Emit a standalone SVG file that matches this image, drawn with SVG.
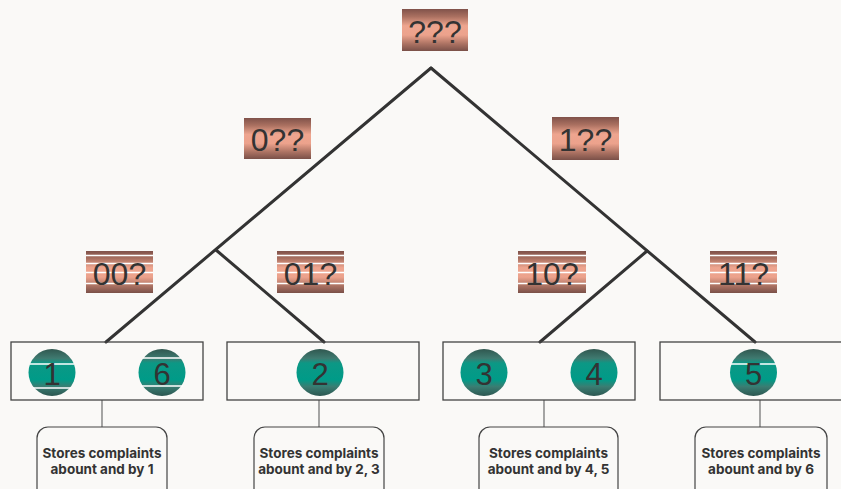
<svg xmlns="http://www.w3.org/2000/svg" width="841" height="489" viewBox="0 0 841 489">
  <defs>
    <linearGradient id="salmon" x1="0" y1="0" x2="0" y2="1">
      <stop offset="0" stop-color="#80524a"/>
      <stop offset="0.18" stop-color="#aa7060"/>
      <stop offset="0.4" stop-color="#eea58f"/>
      <stop offset="0.62" stop-color="#eca28c"/>
      <stop offset="0.82" stop-color="#ae7464"/>
      <stop offset="1" stop-color="#7a5048"/>
    </linearGradient>
    <linearGradient id="teal" x1="0" y1="0" x2="0" y2="1">
      <stop offset="0" stop-color="#30574f"/>
      <stop offset="0.2" stop-color="#3f7a70"/>
      <stop offset="0.3" stop-color="#0c9885"/>
      <stop offset="0.65" stop-color="#009b88"/>
      <stop offset="0.8" stop-color="#3a7d72"/>
      <stop offset="1" stop-color="#2c5650"/>
    </linearGradient>
  </defs>
  <style>
    .bg { fill: #faf9f7; }
    .tag { fill: url(#salmon); }
    .tag-text { font-family: "Liberation Sans", Arial, sans-serif; font-size: 32px; fill: #333; text-anchor: middle; }
    .stripe { stroke: #ffffff; stroke-width: 1.3; }
    .branch { stroke: #333; stroke-width: 3; fill: none; stroke-linecap: round; }
    .leaf { fill: none; stroke: #444; stroke-width: 1.3; }
    .ball { fill: url(#teal); }
    .ball-text { font-family: "Liberation Sans", Arial, sans-serif; font-size: 31px; fill: #333; text-anchor: middle; }
    .stem { stroke: #777; stroke-width: 1.3; }
    .note { fill: #faf9f7; stroke: #444; stroke-width: 1.2; }
    .note-text { font-family: Inter, "Liberation Sans", sans-serif; font-size: 13.5px; font-weight: bold; fill: #333; text-anchor: middle; }
  </style>

  <rect class="bg" x="0" y="0" width="841" height="489"/>

  <!-- tree branches -->
  <g id="connectors">
    <line class="branch" x1="431" y1="68" x2="106" y2="342"/>
    <line class="branch" x1="431" y1="68" x2="755" y2="342"/>
    <line class="branch" x1="216" y1="250" x2="324" y2="342"/>
    <line class="branch" x1="647" y1="251" x2="540" y2="342"/>
    <line class="stem" x1="102" y1="400" x2="102" y2="428"/>
    <line class="stem" x1="319" y1="400" x2="319" y2="428"/>
    <line class="stem" x1="544" y1="400" x2="544" y2="428"/>
    <line class="stem" x1="760" y1="400" x2="760" y2="428"/>
  </g>

  <!-- prefix labels -->
  <g id="root">
    <rect class="tag" x="402" y="9" width="66" height="42"/>
    <text class="tag-text" x="435" y="43">???</text>
  </g>
  <g id="p0">
    <rect class="tag" x="244" y="118" width="67" height="41"/>
    <text class="tag-text" x="277.5" y="151">0??</text>
  </g>
  <g id="p1">
    <rect class="tag" x="552" y="117" width="67" height="43"/>
    <text class="tag-text" x="585.5" y="151">1??</text>
  </g>
  <g id="p00">
    <rect class="tag" x="86" y="251" width="67" height="42"/>
    <g class="stripe">
      <line x1="86" y1="255.5" x2="153" y2="255.5"/>
      <line x1="86" y1="263.5" x2="153" y2="263.5"/>
      <line x1="86" y1="272.5" x2="153" y2="272.5"/>
      <line x1="86" y1="283.5" x2="153" y2="283.5"/>
    </g>
    <text class="tag-text" x="119.5" y="285">00?</text>
  </g>
  <g id="p01">
    <rect class="tag" x="277" y="251" width="67" height="42"/>
    <g class="stripe">
      <line x1="277" y1="255.5" x2="344" y2="255.5"/>
      <line x1="277" y1="263.5" x2="344" y2="263.5"/>
      <line x1="277" y1="272.5" x2="344" y2="272.5"/>
      <line x1="277" y1="283.5" x2="344" y2="283.5"/>
    </g>
    <text class="tag-text" x="310.5" y="285">01?</text>
  </g>
  <g id="p10">
    <rect class="tag" x="518" y="251" width="68" height="42"/>
    <g class="stripe">
      <line x1="518" y1="255.5" x2="586" y2="255.5"/>
      <line x1="518" y1="263.5" x2="586" y2="263.5"/>
      <line x1="518" y1="272.5" x2="586" y2="272.5"/>
      <line x1="518" y1="283.5" x2="586" y2="283.5"/>
    </g>
    <text class="tag-text" x="552" y="285">10?</text>
  </g>
  <g id="p11">
    <rect class="tag" x="710" y="251" width="67" height="42"/>
    <g class="stripe">
      <line x1="710" y1="255.5" x2="777" y2="255.5"/>
      <line x1="710" y1="263.5" x2="777" y2="263.5"/>
      <line x1="710" y1="272.5" x2="777" y2="272.5"/>
      <line x1="710" y1="283.5" x2="777" y2="283.5"/>
    </g>
    <text class="tag-text" x="743.5" y="285">11?</text>
  </g>

  <!-- leaf buckets -->
  <g id="bucket00">
    <rect class="leaf" x="11" y="342" width="192" height="58"/>
    <circle class="ball" cx="52" cy="372.5" r="23.5"/>
    <line class="stripe" x1="30" y1="364" x2="74" y2="364"/>
    <line class="stripe" x1="33" y1="388" x2="71" y2="388"/>
    <text class="ball-text" x="52" y="385">1</text>
    <circle class="ball" cx="162" cy="372.5" r="23.5"/>
    <line class="stripe" x1="143" y1="358" x2="181" y2="358"/>
    <line class="stripe" x1="141" y1="386" x2="183" y2="386"/>
    <text class="ball-text" x="162" y="385">6</text>
  </g>
  <g id="bucket01">
    <rect class="leaf" x="227" y="342" width="192" height="58"/>
    <circle class="ball" cx="320" cy="372.5" r="23.5"/>
    <text class="ball-text" x="320" y="385">2</text>
  </g>
  <g id="bucket10">
    <rect class="leaf" x="443" y="342" width="192" height="58"/>
    <circle class="ball" cx="484" cy="372.5" r="23.5"/>
    <text class="ball-text" x="484" y="385">3</text>
    <circle class="ball" cx="594" cy="372.5" r="23.5"/>
    <text class="ball-text" x="594" y="385">4</text>
  </g>
  <g id="bucket11">
    <rect class="leaf" x="660" y="342" width="192" height="58"/>
    <circle class="ball" cx="753.5" cy="372.5" r="23.5"/>
    <line class="stripe" x1="731" y1="364" x2="776" y2="364"/>
    <text class="ball-text" x="753.5" y="385">5</text>
  </g>

  <!-- storage notes -->
  <g id="note1">
    <rect class="note" x="37" y="427" width="130" height="75" rx="11"/>
    <text class="note-text" x="102" y="458">Stores complaints</text>
    <text class="note-text" x="102" y="474">abount and by 1</text>
  </g>
  <g id="note2">
    <rect class="note" x="254" y="427" width="130" height="75" rx="11"/>
    <text class="note-text" x="319" y="458">Stores complaints</text>
    <text class="note-text" x="319" y="474">abount and by 2, 3</text>
  </g>
  <g id="note3">
    <rect class="note" x="479" y="427" width="139" height="75" rx="11"/>
    <text class="note-text" x="548.5" y="458">Stores complaints</text>
    <text class="note-text" x="548.5" y="474">abount and by 4, 5</text>
  </g>
  <g id="note4">
    <rect class="note" x="695" y="427" width="132" height="75" rx="11"/>
    <text class="note-text" x="761" y="458">Stores complaints</text>
    <text class="note-text" x="761" y="474">abount and by 6</text>
  </g>
</svg>
